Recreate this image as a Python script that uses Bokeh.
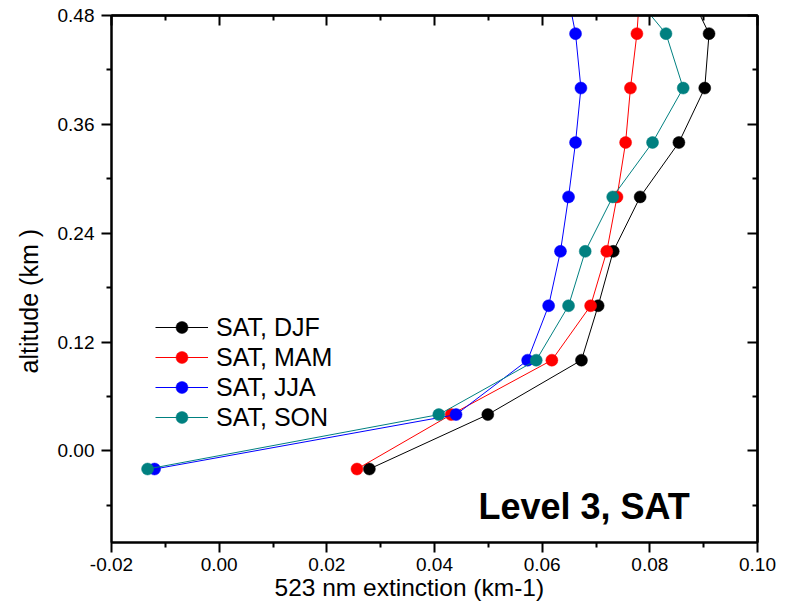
from bokeh.plotting import figure
from bokeh.models import (Range1d, FixedTicker, PrintfTickFormatter, LinearAxis,
                          Legend, LegendItem, Label, Title)
from bokeh.embed import file_html
from bokeh.resources import INLINE

# ---- data ----
altitude = [-0.02, 0.04, 0.10, 0.16, 0.22, 0.28, 0.34, 0.40, 0.46, 0.52]
djf = [0.0279, 0.0499, 0.0673, 0.0704, 0.0732, 0.0782, 0.0854, 0.0902, 0.0910, 0.0861]
mam = [0.0256, 0.0431, 0.0618, 0.0690, 0.0720, 0.0739, 0.0755, 0.0764, 0.0776, 0.0783]
jja = [-0.0120, 0.0440, 0.0573, 0.0612, 0.0634, 0.0649, 0.0662, 0.0672, 0.0662, 0.0642]
son = [-0.0133, 0.0408, 0.0589, 0.0649, 0.0680, 0.0731, 0.0805, 0.0862, 0.0830, 0.0746]
series_names = ["SAT, DJF", "SAT, MAM", "SAT, JJA", "SAT, SON"]
series_colors = ["#000000", "#FF0000", "#0000FF", "#008080"]
x_major = [-0.02, 0.00, 0.02, 0.04, 0.06, 0.08, 0.10]
x_minor = [-0.01, 0.01, 0.03, 0.05, 0.07, 0.09]
y_major = [0.00, 0.12, 0.24, 0.36, 0.48]
y_minor = [-0.06, 0.06, 0.18, 0.30, 0.42]
x_title = "523 nm extinction (km-1)"
y_title = "altitude (km )"
panel_title = "Level 3, SAT"

FONT = "Liberation Sans"

p = figure(width=786, height=604, output_backend="svg", toolbar_location=None,
           x_range=Range1d(-0.02, 0.10), y_range=Range1d(-0.101, 0.48),
           min_border_left=110, min_border_right=29, min_border_top=15,
           min_border_bottom=62, x_axis_location=None, y_axis_location=None)
p.xgrid.visible = False
p.ygrid.visible = False
p.outline_line_color = "black"
p.outline_line_width = 2
p.background_fill_color = "white"
p.border_fill_color = "white"


def style_axis(ax, major, minor):
    ax.ticker = FixedTicker(ticks=major, minor_ticks=minor)
    ax.formatter = PrintfTickFormatter(format="%.2f")
    ax.axis_line_width = 2
    ax.major_tick_line_width = 2
    ax.minor_tick_line_width = 2
    ax.major_tick_in = 0
    ax.major_tick_out = 10
    ax.minor_tick_in = 0
    ax.minor_tick_out = 5
    ax.major_label_text_font = FONT
    ax.major_label_text_font_size = "19px"
    ax.major_label_text_color = "black"


def inner_axis(positions, length):
    # label-free axis: only minor ticks, pointing into the frame
    ax = LinearAxis(ticker=FixedTicker(ticks=[], minor_ticks=positions))
    ax.axis_line_width = 2
    ax.minor_tick_line_width = 2
    ax.minor_tick_in = length
    ax.minor_tick_out = 0
    ax.major_tick_in = 0
    ax.major_tick_out = 0
    ax.major_label_standoff = 0
    return ax


xb = LinearAxis()
style_axis(xb, x_major, x_minor)
xb.major_label_standoff = 5
p.add_layout(xb, "below")

yl = LinearAxis()
style_axis(yl, y_major, y_minor)
yl.major_label_standoff = 7
p.add_layout(yl, "left")

p.add_layout(inner_axis(x_major, 10), "above")
p.add_layout(inner_axis(x_minor, 5), "above")
p.add_layout(inner_axis(y_major, 10), "right")
p.add_layout(inner_axis(y_minor, 5), "right")

# axis titles, placed off-centre as in the original
p.add_layout(Title(text=x_title, align="left", offset=163, vertical_align="top",
                   standoff=0, text_font=FONT, text_font_size="24.5px",
                   text_font_style="normal", text_color="black"), "below")
p.add_layout(Title(text=y_title, align="left", offset=169, vertical_align="bottom",
                   standoff=24, text_font=FONT, text_font_size="25px",
                   text_font_style="normal", text_color="black"), "left")

items = []
for name, col, xs in zip(series_names, series_colors, [djf, mam, jja, son]):
    ln = p.line(xs, altitude, line_color=col, line_width=1)
    sc = p.scatter(xs, altitude, marker="circle", size=12, fill_color=col,
                   line_color=col, line_width=0.5)
    items.append(LegendItem(label=name, renderers=[ln, sc]))

legend = Legend(items=items, location=(44, 110), glyph_width=53, glyph_height=30,
                label_height=30, spacing=0, label_standoff=8, padding=0, margin=0,
                border_line_color=None, background_fill_alpha=0,
                label_text_font=FONT, label_text_font_size="25px",
                label_text_color="black")
p.add_layout(legend, "center")

p.add_layout(Label(x=0.0678, y=-0.061, text=panel_title, text_align="center",
                   text_baseline="alphabetic", text_font=FONT, text_font_size="36px",
                   text_font_style="bold", text_color="black"))

open("out.html", "w").write(file_html(p, INLINE))
